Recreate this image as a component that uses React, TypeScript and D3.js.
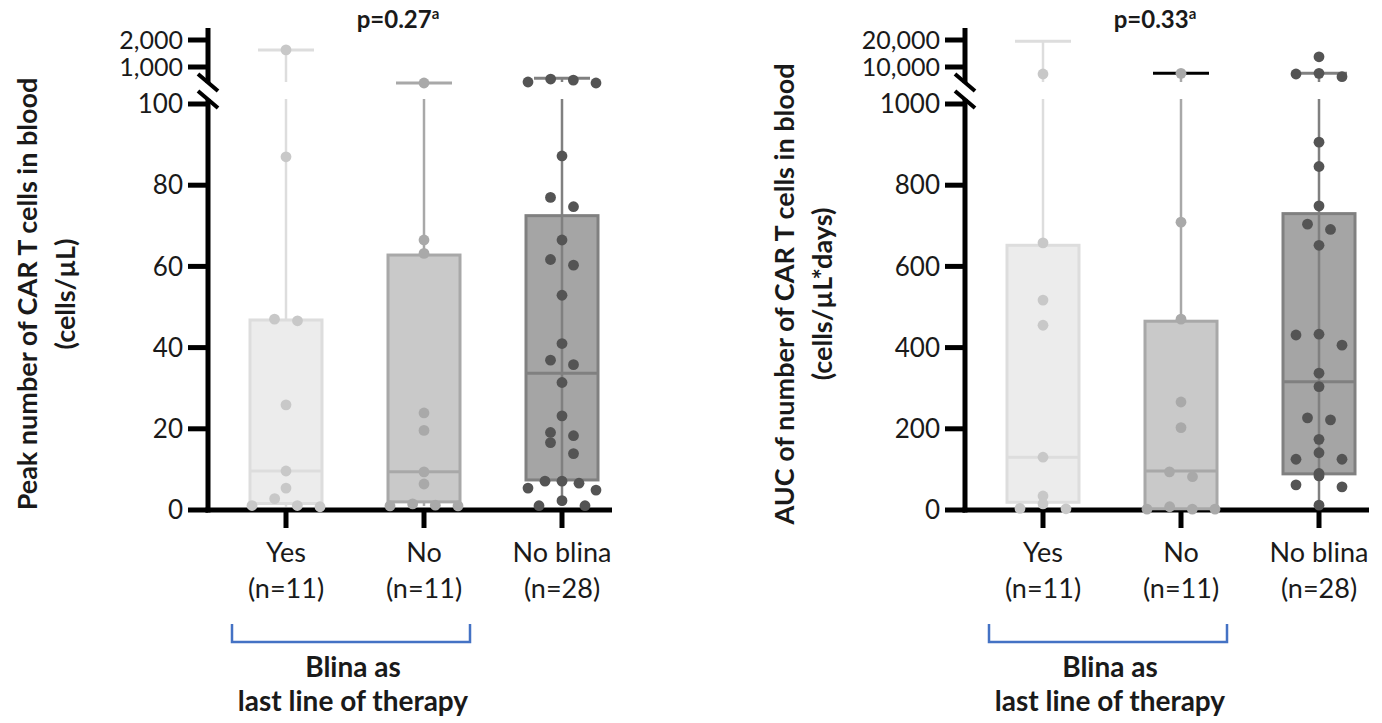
import React from 'react';
import * as d3 from 'd3';

const categories = ['Yes', 'No', 'No blina'];
const groupN = ['(n=11)', '(n=11)', '(n=28)'];

// Peak number of CAR T cells (cells/µL)
const peakYes = [1550, 87, 47, 46.6, 25.9, 9.6, 5.4, 2.8, 1.1, 0.8, 1.1];
const peakNo = [663, 66.5, 63.2, 23.9, 19.6, 9.4, 6.4, 1.2, 1.5, 1.0, 1.0];
const peakNoBlina = [734, 715, 680, 663, 87.2, 77.0, 74.7, 66.5, 61.7, 60.3, 52.9, 41.0, 36.9, 35.8, 31.4,
  23.2, 19.1, 18.3, 16.6, 13.9, 7.1, 7.1, 6.6, 5.4, 4.9, 2.3, 1.06, 1.06];
const peakMin = [0.8, 1.0, 1.06];
const peakQ1 = [1.6, 2.0, 7.4];
const peakMedian = [9.6, 9.4, 33.7];
const peakQ3 = [46.8, 62.8, 72.5];
const peakMax = [1550, 663, 750];
const peakTicks = [0, 20, 40, 60, 80, 100];
const peakBreakTicks = [1000, 2000];

// AUC of CAR T cells (cells/µL*days)
const aucYes = [8350, 658, 517, 455, 130, 34.5, 15, 4, 3];
const aucNo = [8500, 709, 470, 266, 203, 94, 82, 8, 2, 2, 2];
const aucNoBlina = [13000, 8500, 8350, 7800, 906, 846, 749, 704, 691, 652, 433, 431, 406, 337, 304, 227,
  222, 174, 141, 125, 125, 90, 84, 62, 57, 12];
const aucMin = [3, 2, 12];
const aucQ1 = [19, 3, 89];
const aucMedian = [130, 96, 316];
const aucQ3 = [652, 465, 730];
const aucMax = [19400, 8500, 8500];
const aucTicks = [0, 200, 400, 600, 800, 1000];
const aucBreakTicks = [10000, 20000];

const boxFill = ['#ececec', '#c9c9c9', '#a5a5a5'];
const boxStroke = ['#dddddd', '#a8a8a8', '#808080'];
const dotFill = ['#c8c8c8', '#a9a9a9', '#545454'];
const FONT = 'Lato, "Open Sans", sans-serif';

// layout
const Y0 = 510;
const Y_TOP_LOW = 104;
const LOW_CLIP = 99;
const UP_BOTTOM = 82;
const R = 5.4;

// simple GraphPad-like scatter: group points into rows and spread them around the centre
const spread = (ys: number[]) => {
  const idx = ys.map((y, i) => i).sort((a, b) => ys[b] - ys[a]);
  const off = new Array(ys.length).fill(0);
  let i = 0;
  while (i < idx.length) {
    const row = [idx[i]];
    let j = i + 1;
    while (j < idx.length && ys[idx[i]] - ys[idx[j]] < 2 * R + 0.5) { row.push(idx[j]); j++; }
    const n = row.length;
    const step = n > 1 ? Math.min(23, 68 / (n - 1)) : 0;
    const slots = d3.range(n).map(k => (k - (n - 1) / 2) * step).sort((a, b) => Math.abs(a) - Math.abs(b) || a - b);
    row.sort((a, b) => ys[a] - ys[b]).forEach((p, k) => { off[p] = slots[k]; });
    i = j;
  }
  return off;
};

const Panel = ({ ax, groups, mins, q1s, meds, q3s, maxs, ticks, breakTicks, fmt, capColors, pLabel, yLabel, yUnit }: any) => {
  const lowMax = ticks[ticks.length - 1];
  const low = d3.scaleLinear().domain([0, lowMax]).range([Y0, Y_TOP_LOW]);
  const up = d3.scaleLog().domain(breakTicks).range([67, 40]);
  const yOf = (v: number) => (v > lowMax * 1.02 ? up(v) : low(v));
  const x = d3.scalePoint().domain(categories).range([ax + 78, ax + 354]);
  const bw = 72, cw = 56;
  const fmtUp = d3.format(',');

  return (
    <g fontFamily={FONT}>
      {/* axes */}
      <line x1={ax} x2={ax} y1={28} y2={UP_BOTTOM + 1} stroke="#000" strokeWidth={5} />
      <line x1={ax} x2={ax} y1={LOW_CLIP} y2={Y0 + 2.5} stroke="#000" strokeWidth={5} />
      <line x1={ax - 10} y1={74} x2={ax + 10} y2={91} stroke="#000" strokeWidth={4} />
      <line x1={ax - 10} y1={91} x2={ax + 10} y2={108} stroke="#000" strokeWidth={4} />
      <line x1={ax - 2.5} x2={ax + 404} y1={Y0} y2={Y0} stroke="#000" strokeWidth={5} />
      {ticks.map((t: number) => (
        <g key={'t' + t}>
          <line x1={ax - 20} x2={ax} y1={low(t)} y2={low(t)} stroke="#000" strokeWidth={5} />
          <text x={ax - 25} y={low(t)} dy="0.35em" textAnchor="end" fontSize={26} fill="#1a1a1a">{fmt(t)}</text>
        </g>
      ))}
      {breakTicks.map((t: number) => (
        <g key={'b' + t}>
          <line x1={ax - 20} x2={ax} y1={up(t)} y2={up(t)} stroke="#000" strokeWidth={5} />
          <text x={ax - 25} y={up(t)} dy="0.35em" textAnchor="end" fontSize={25} fill="#1a1a1a">{fmtUp(t)}</text>
        </g>
      ))}
      {categories.map((c, i) => (
        <g key={c}>
          <line x1={x(c)} x2={x(c)} y1={Y0} y2={Y0 + 18} stroke="#000" strokeWidth={5} />
          <text x={x(c)} y={562} textAnchor="middle" fontSize={27} fill="#1a1a1a">{c}</text>
          <text x={x(c)} y={598} textAnchor="middle" fontSize={27} fill="#1a1a1a">{groupN[i]}</text>
        </g>
      ))}

      {/* boxes and whiskers */}
      {categories.map((c, i) => {
        const cx = x(c) as number;
        const hiBroken = maxs[i] > lowMax;
        const lowTop = hiBroken ? LOW_CLIP : low(maxs[i]);
        const through = i === 2;
        return (
          <g key={'box' + c}>
            <rect x={cx - bw / 2} y={low(q3s[i])} width={bw} height={low(q1s[i]) - low(q3s[i])}
              fill={boxFill[i]} stroke={boxStroke[i]} strokeWidth={3} />
            <line x1={cx - bw / 2} x2={cx + bw / 2} y1={low(meds[i])} y2={low(meds[i])} stroke={boxStroke[i]} strokeWidth={3} />
            <line x1={cx} x2={cx} y1={through ? low(q1s[i]) : low(q3s[i])} y2={lowTop} stroke={boxStroke[i]} strokeWidth={2.5} />
            <line x1={cx} x2={cx} y1={low(q1s[i])} y2={low(mins[i])} stroke={boxStroke[i]} strokeWidth={2.5} />
            {hiBroken && up(maxs[i]) < UP_BOTTOM && (
              <line x1={cx} x2={cx} y1={UP_BOTTOM} y2={up(maxs[i])} stroke={boxStroke[i]} strokeWidth={2.5} />
            )}
            <line x1={cx - cw / 2} x2={cx + cw / 2} y1={yOf(maxs[i])} y2={yOf(maxs[i])} stroke={capColors[i]} strokeWidth={3} />
          </g>
        );
      })}

      {/* points */}
      {groups.map((vals: number[], i: number) => {
        const cx = x(categories[i]) as number;
        const ys = vals.map(yOf);
        const off = spread(ys);
        return (
          <g key={'pts' + i} fill={dotFill[i]}>
            {vals.map((v, k) => <circle key={k} cx={cx + off[k]} cy={ys[k]} r={R} />)}
          </g>
        );
      })}

      {/* p value */}
      <text x={ax + 190} y={28} textAnchor="middle" fontSize={24} fontWeight="bold" fill="#1a1a1a">
        {pLabel}<tspan fontSize={15} dy={-9}>a</tspan>
      </text>

      {/* y title */}
      <g transform={`translate(${ax - 180},294) rotate(-90)`}>
        <text textAnchor="middle" dy="0.35em" fontSize={27} fontWeight="bold" fill="#1a1a1a">{yLabel}</text>
      </g>
      <g transform={`translate(${ax - 142},294) rotate(-90)`}>
        <text textAnchor="middle" dy="0.35em" fontSize={27} fontWeight="bold" fill="#1a1a1a">{yUnit}</text>
      </g>

      {/* bracket */}
      <path d={`M${ax + 24},624 V642 H${ax + 262} V624`} fill="none" stroke="#4472c4" strokeWidth={2.5} />
      <text x={ax + 145} y={677} textAnchor="middle" fontSize={28} fontWeight="bold" fill="#1a1a1a">Blina as</text>
      <text x={ax + 145} y={711} textAnchor="middle" fontSize={28} fontWeight="bold" fill="#1a1a1a">last line of therapy</text>
    </g>
  );
};

export default function App() {
  return (
    <svg width={1382} height={723} style={{ position: 'absolute', left: 0, top: 0, background: '#fff' }}>
      <Panel ax={208} groups={[peakYes, peakNo, peakNoBlina]} mins={peakMin} q1s={peakQ1} meds={peakMedian}
        q3s={peakQ3} maxs={peakMax} ticks={peakTicks} breakTicks={peakBreakTicks} fmt={d3.format('d')}
        capColors={boxStroke} pLabel="p=0.27" yLabel="Peak number of CAR T cells in blood" yUnit="(cells/µL)" />
      <Panel ax={965} groups={[aucYes, aucNo, aucNoBlina]} mins={aucMin} q1s={aucQ1} meds={aucMedian}
        q3s={aucQ3} maxs={aucMax} ticks={aucTicks} breakTicks={aucBreakTicks} fmt={d3.format('d')}
        capColors={[boxStroke[0], '#000000', boxStroke[2]]} pLabel="p=0.33"
        yLabel="AUC of number of CAR T cells in blood" yUnit="(cells/µL*days)" />
    </svg>
  );
}
